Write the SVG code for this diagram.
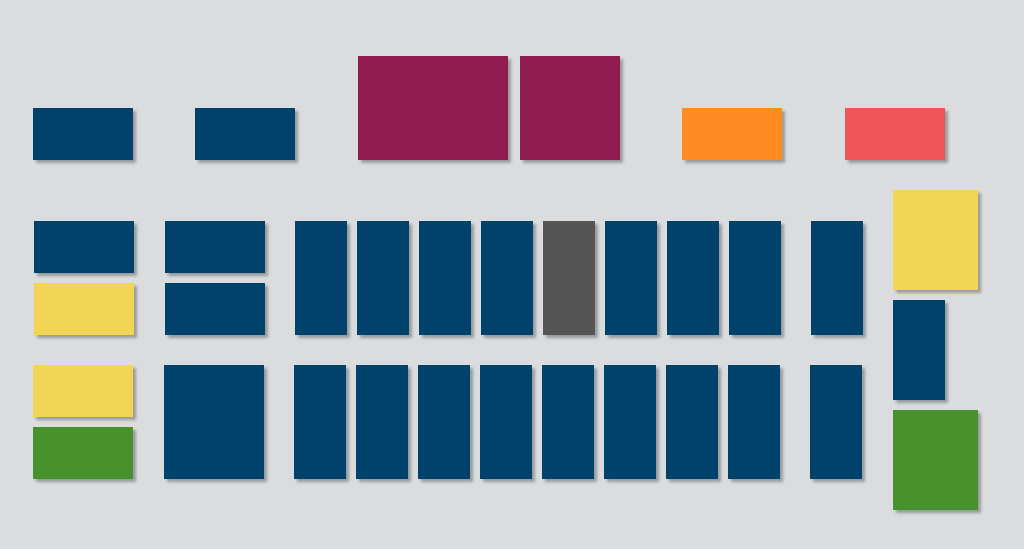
<svg xmlns="http://www.w3.org/2000/svg" width="1024" height="549" viewBox="0 0 1024 549">
<defs>
<filter id="sh" x="-20%" y="-20%" width="140%" height="140%">
<feDropShadow dx="3" dy="3" stdDeviation="1.6" flood-color="#000" flood-opacity="0.3"/>
</filter>
</defs>
<style>
.n{filter:url(#sh)}
.navy{fill:#01436B}
.maroon{fill:#901D50}
.orange{fill:#FF8C22}
.red{fill:#EE5556}
.yellow{fill:#F3D554}
.green{fill:#46922C}
.gray{fill:#555555}
</style>
<rect width="1024" height="549" fill="#DBDCDE"/>
<g id="nodes">
<g id="t1"><rect class="n navy" x="33" y="108" width="100" height="52"/></g>
<g id="t2"><rect class="n navy" x="195" y="108" width="100" height="52"/></g>
<g id="t3"><rect class="n maroon" x="358" y="56" width="150" height="104"/></g>
<g id="t4"><rect class="n maroon" x="520" y="56" width="100" height="104"/></g>
<g id="t5"><rect class="n orange" x="682" y="108" width="100" height="52"/></g>
<g id="t6"><rect class="n red" x="845" y="108" width="100" height="52"/></g>

<g id="a1"><rect class="n navy" x="34" y="221" width="100" height="52"/></g>
<g id="a2"><rect class="n yellow" x="34" y="283" width="100" height="52"/></g>
<g id="a3"><rect class="n navy" x="165" y="221" width="100" height="52"/></g>
<g id="a4"><rect class="n navy" x="165" y="283" width="100" height="52"/></g>

<g id="c1"><rect class="n navy" x="295" y="221" width="52" height="114"/></g>
<g id="c2"><rect class="n navy" x="357" y="221" width="52" height="114"/></g>
<g id="c3"><rect class="n navy" x="419" y="221" width="52" height="114"/></g>
<g id="c4"><rect class="n navy" x="481" y="221" width="52" height="114"/></g>
<g id="c5"><rect class="n gray" x="543" y="221" width="52" height="114"/></g>
<g id="c6"><rect class="n navy" x="605" y="221" width="52" height="114"/></g>
<g id="c7"><rect class="n navy" x="667" y="221" width="52" height="114"/></g>
<g id="c8"><rect class="n navy" x="729" y="221" width="52" height="114"/></g>
<g id="c9"><rect class="n navy" x="811" y="221" width="52" height="114"/></g>

<g id="b1"><rect class="n yellow" x="33" y="365" width="100" height="52"/></g>
<g id="b2"><rect class="n green" x="33" y="427" width="100" height="52"/></g>
<g id="b3"><rect class="n navy" x="164" y="365" width="100" height="114"/></g>

<g id="d1"><rect class="n navy" x="294" y="365" width="52" height="114"/></g>
<g id="d2"><rect class="n navy" x="356" y="365" width="52" height="114"/></g>
<g id="d3"><rect class="n navy" x="418" y="365" width="52" height="114"/></g>
<g id="d4"><rect class="n navy" x="480" y="365" width="52" height="114"/></g>
<g id="d5"><rect class="n navy" x="542" y="365" width="52" height="114"/></g>
<g id="d6"><rect class="n navy" x="604" y="365" width="52" height="114"/></g>
<g id="d7"><rect class="n navy" x="666" y="365" width="52" height="114"/></g>
<g id="d8"><rect class="n navy" x="728" y="365" width="52" height="114"/></g>
<g id="d9"><rect class="n navy" x="810" y="365" width="52" height="114"/></g>

<g id="r1"><rect class="n yellow" x="893" y="190" width="85" height="100"/></g>
<g id="r2"><rect class="n navy" x="893" y="300" width="52" height="100"/></g>
<g id="r3"><rect class="n green" x="893" y="410" width="85" height="100"/></g>
</g>
<g id="connectors"/>
</svg>
